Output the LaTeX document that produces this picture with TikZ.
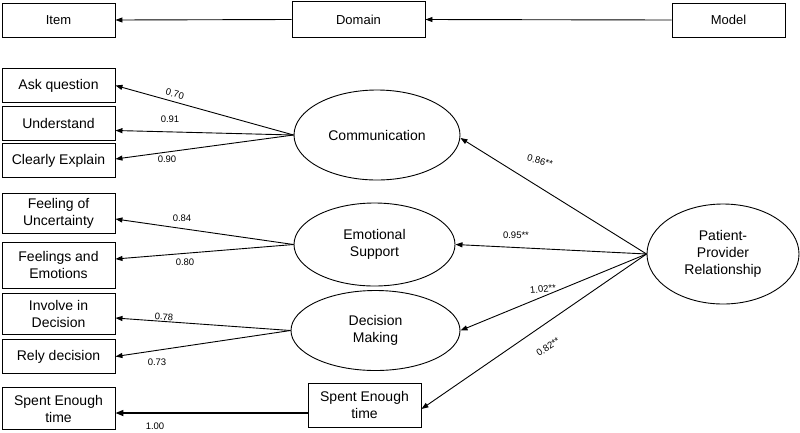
\documentclass[tikz,border=0pt]{standalone}
\usepackage{fontspec}
\setmainfont{Liberation Sans}
\usetikzlibrary{arrows.meta,shapes.geometric}
\tikzset{
  box/.style={draw, line width=0.9pt, inner sep=0pt, align=center, font=\fontsize{14}{17}\selectfont},
  topbox/.style={draw, line width=0.9pt, inner sep=0pt, align=center, font=\fontsize{13}{16}\selectfont},
  lat/.style={draw, ellipse, line width=0.9pt, inner sep=0pt, align=center, font=\fontsize{14}{17}\selectfont},
  arr/.style={line width=0.9pt, -{Triangle[length=7pt,width=5pt]}},
  lbl/.style={inner sep=0pt, font=\fontsize{9.5}{11}\selectfont}
}
\begin{document}
\begin{tikzpicture}[x=1pt,y=-1pt]
\useasboundingbox (0,0) rectangle (800,432);
% top row
\node[topbox, minimum width=113pt, minimum height=34pt] (item) at (58.5,20) {Item};
\node[topbox, minimum width=133pt, minimum height=36pt] (domain) at (358.5,19.5) {Domain};
\node[topbox, minimum width=113pt, minimum height=34pt] (model) at (728.5,20) {Model};
\draw[arr] (model.west) -- (domain.east);
\draw[arr] (domain.west) -- (item.east);
% items
\node[box, minimum width=113pt, minimum height=34pt] (ask) at (58.5,85.5) {Ask question};
\node[box, minimum width=113pt, minimum height=34pt] (und) at (58.5,123.5) {Understand};
\node[box, minimum width=113pt, minimum height=34pt] (clr) at (58.5,160.5) {Clearly Explain};
\node[box, minimum width=113pt, minimum height=40pt] (unc) at (58.5,213) {Feeling of\\Uncertainty};
\node[box, minimum width=113pt, minimum height=46pt] (emo) at (58.5,265) {Feelings and\\Emotions};
\node[box, minimum width=113pt, minimum height=41pt] (inv) at (58.5,313.5) {Involve in\\Decision};
\node[box, minimum width=113pt, minimum height=34pt] (rely) at (58.5,356.5) {Rely decision};
\node[box, minimum width=113pt, minimum height=42pt] (spl) at (58.5,408.5) {Spent Enough\\time};
% domains
\node[lat, minimum width=166pt, minimum height=90pt] (comm) at (377,135) {Communication};
\node[lat, minimum width=161pt, minimum height=83pt] (emsup) at (374.5,244.5) {Emotional\\Support};
\node[lat, minimum width=169pt, minimum height=80pt] (dec) at (375.5,330.5) {Decision\\Making};
\node[box, minimum width=113pt, minimum height=44pt] (spr) at (364.5,405) {Spent Enough\\time};
% model
\node[lat, minimum width=152pt, minimum height=100pt] (ppr) at (723,254) {Patient-\\Provider\\Relationship};
% item loadings
\draw[arr] (comm.west) -- (ask.east);
\draw[arr] (comm.west) -- ([yshift=-7pt]und.east);
\draw[arr] (comm.west) -- ([yshift=1.5pt]clr.east);
\draw[arr] (emsup.west) -- ([yshift=-6pt]unc.east);
\draw[arr] (emsup.west) -- ([yshift=6pt]emo.east);
\draw[arr] (dec.west) -- ([yshift=-4.5pt]inv.east);
\draw[arr] (dec.west) -- (rely.east);
\draw[line width=1.6pt, -{Triangle[length=8pt,width=6pt]}] ([yshift=-8pt]spr.west) -- ([yshift=-4.5pt]spl.east);
% structural paths
\draw[arr] (ppr.west) -- ([yshift=-3pt]comm.east);
\draw[arr] (ppr.west) -- (emsup.east);
\draw[arr] (ppr.west) -- (dec.east);
\draw[arr] (ppr.west) -- ([yshift=-4pt]spr.east);
% labels
\node[lbl, rotate=-15] (l1) at (175,94) {0.70};
\node[lbl] (l2) at (170,119) {0.91};
\node[lbl] (l3) at (167,159) {0.90};
\node[lbl] (l4) at (182,218) {0.84};
\node[lbl] (l5) at (185,262) {0.80};
\node[lbl, rotate=-4] (l6) at (164,317) {0.78};
\node[lbl] (l7) at (157,362) {0.73};
\node[lbl] (l8) at (155,426) {1.00};
\node[lbl, rotate=-15] (l9) at (540,161) {0.86**};
\node[lbl] (l10) at (516,235) {0.95**};
\node[lbl, rotate=6] (l11) at (543,289) {1.02**};
\node[lbl, rotate=34] (l12) at (548,347) {0.82**};
\end{tikzpicture}
\end{document}
